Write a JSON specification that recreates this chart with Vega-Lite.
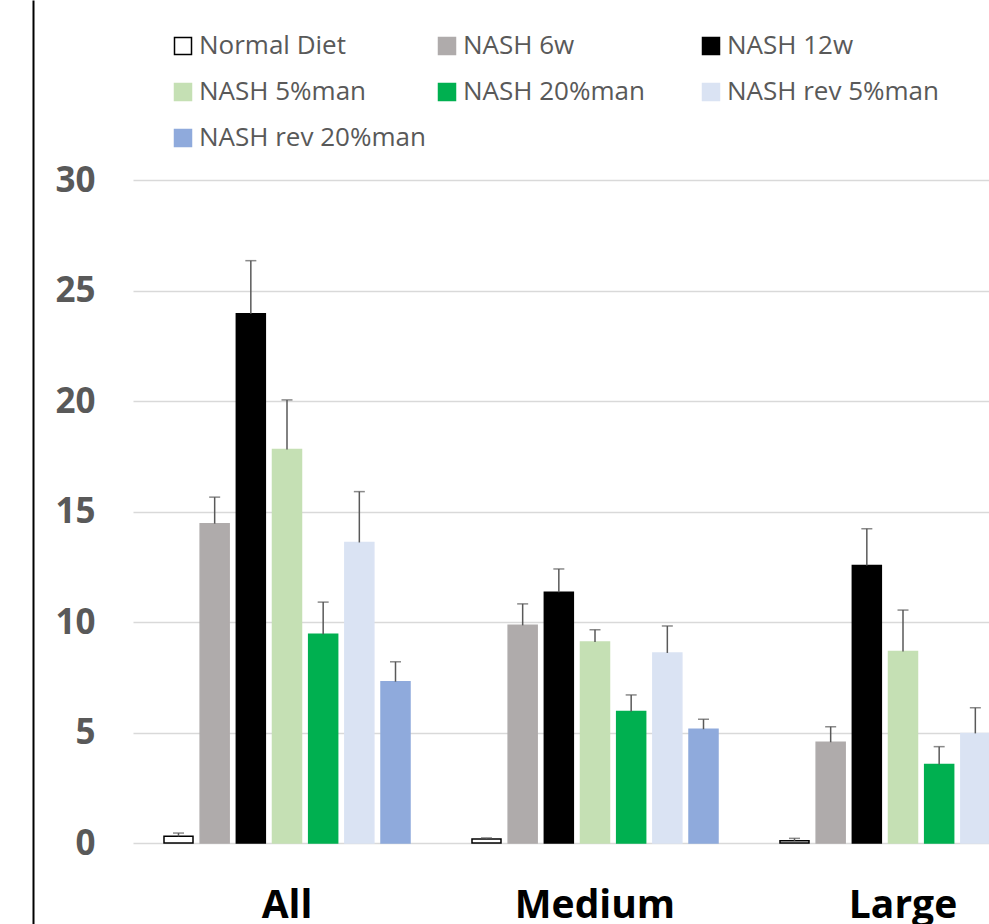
{
  "$schema": "https://vega.github.io/schema/vega-lite/v6.json",
  "width": 856,
  "height": 924,
  "autosize": "none",
  "padding": {"left": 133, "top": 0, "right": 0, "bottom": 0},
  "background": "white",
  "config": {"view": {"stroke": null}, "font": "Open Sans"},
  "data": {"values": [
    {"group": "All", "series": "Normal Diet", "value": 0.3, "upper": 0.45},
    {"group": "All", "series": "NASH 6w", "value": 14.45, "upper": 15.65},
    {"group": "All", "series": "NASH 12w", "value": 23.95, "upper": 26.35},
    {"group": "All", "series": "NASH 5%man", "value": 17.8, "upper": 20.05},
    {"group": "All", "series": "NASH 20%man", "value": 9.45, "upper": 10.9},
    {"group": "All", "series": "NASH rev 5%man", "value": 13.6, "upper": 15.9},
    {"group": "All", "series": "NASH rev 20%man", "value": 7.3, "upper": 8.2},
    {"group": "Medium", "series": "Normal Diet", "value": 0.18, "upper": 0.23},
    {"group": "Medium", "series": "NASH 6w", "value": 9.85, "upper": 10.82},
    {"group": "Medium", "series": "NASH 12w", "value": 11.35, "upper": 12.4},
    {"group": "Medium", "series": "NASH 5%man", "value": 9.1, "upper": 9.65},
    {"group": "Medium", "series": "NASH 20%man", "value": 5.95, "upper": 6.7},
    {"group": "Medium", "series": "NASH rev 5%man", "value": 8.6, "upper": 9.82},
    {"group": "Medium", "series": "NASH rev 20%man", "value": 5.15, "upper": 5.6},
    {"group": "Large", "series": "Normal Diet", "value": 0.1, "upper": 0.21},
    {"group": "Large", "series": "NASH 6w", "value": 4.56, "upper": 5.26},
    {"group": "Large", "series": "NASH 12w", "value": 12.56, "upper": 14.22},
    {"group": "Large", "series": "NASH 5%man", "value": 8.66, "upper": 10.54},
    {"group": "Large", "series": "NASH 20%man", "value": 3.55, "upper": 4.36},
    {"group": "Large", "series": "NASH rev 5%man", "value": 4.96, "upper": 6.12},
    {"group": "Large", "series": "NASH rev 20%man", "value": 3.0, "upper": 3.6}
  ]},
  "encoding": {
    "x": {
      "field": "group", "type": "nominal", "sort": ["All", "Medium", "Large"],
      "scale": {"range": [0, 924], "paddingInner": 0.178, "paddingOuter": 0.089},
      "axis": {
        "title": null, "orient": "bottom", "domain": false, "ticks": false, "tickSize": 0,
        "labelAngle": 0, "labelBaseline": "alphabetic", "labelPadding": -7,
        "labelFont": "Open Sans", "labelFontWeight": "bold", "labelFontSize": 39, "labelColor": "#000000"
      }
    },
    "xOffset": {
      "field": "series", "type": "nominal",
      "sort": ["Normal Diet", "NASH 6w", "NASH 12w", "NASH 5%man", "NASH 20%man", "NASH rev 5%man", "NASH rev 20%man"],
      "scale": {"paddingInner": 0.198, "paddingOuter": 0.099}
    }
  },
  "layer": [
    {
      "mark": {"type": "bar", "strokeWidth": 1.5},
      "encoding": {
        "y": {
          "field": "value", "type": "quantitative",
          "scale": {"domain": [-3.665, 38.145], "nice": false, "zero": false},
          "axis": {
            "title": null, "orient": "left", "values": [0, 5, 10, 15, 20, 25, 30],
            "offset": 100, "domainColor": "#000000", "domainWidth": 2,
            "ticks": false, "tickSize": 0, "labelPadding": -62,
            "labelFont": "Open Sans", "labelFontWeight": "bold", "labelFontSize": 35, "labelColor": "#595959",
            "gridColor": "#d9d9d9", "gridWidth": 1.5
          }
        },
        "y2": {"datum": 0},
        "fill": {
          "field": "series", "type": "nominal",
          "sort": ["Normal Diet", "NASH 6w", "NASH 12w", "NASH 5%man", "NASH 20%man", "NASH rev 5%man", "NASH rev 20%man"],
          "scale": {
            "domain": ["Normal Diet", "NASH 6w", "NASH 12w", "NASH 5%man", "NASH 20%man", "NASH rev 5%man", "NASH rev 20%man"],
            "range": ["#ffffff", "#AFABAB", "#000000", "#C5E0B4", "#00B050", "#DAE3F3", "#8FAADC"]
          },
          "legend": {
            "title": null, "orient": "none", "legendX": 37, "legendY": 33, "columns": 3, "direction": "horizontal",
            "gridAlign": "all", "columnPadding": 8, "rowPadding": 20, "padding": 0,
            "symbolType": "square", "symbolSize": 289, "symbolStrokeWidth": 1.5, "symbolOpacity": 1,
            "labelFont": "Open Sans", "labelFontSize": 26, "labelColor": "#595959", "labelOffset": 3, "labelLimit": 500
          }
        },
        "stroke": {
          "field": "series", "type": "nominal",
          "sort": ["Normal Diet", "NASH 6w", "NASH 12w", "NASH 5%man", "NASH 20%man", "NASH rev 5%man", "NASH rev 20%man"],
          "scale": {
            "domain": ["Normal Diet", "NASH 6w", "NASH 12w", "NASH 5%man", "NASH 20%man", "NASH rev 5%man", "NASH rev 20%man"],
            "range": ["#000000", "#AFABAB", "#000000", "#C5E0B4", "#00B050", "#DAE3F3", "#8FAADC"]
          }
        }
      }
    },
    {
      "mark": {"type": "rule", "color": "#595959", "strokeWidth": 1.5},
      "encoding": {
        "y": {"field": "value", "type": "quantitative"},
        "y2": {"field": "upper"}
      }
    },
    {
      "mark": {"type": "tick", "orient": "horizontal", "size": 11, "thickness": 1.5, "color": "#595959"},
      "encoding": {
        "y": {"field": "upper", "type": "quantitative"}
      }
    }
  ]
}
